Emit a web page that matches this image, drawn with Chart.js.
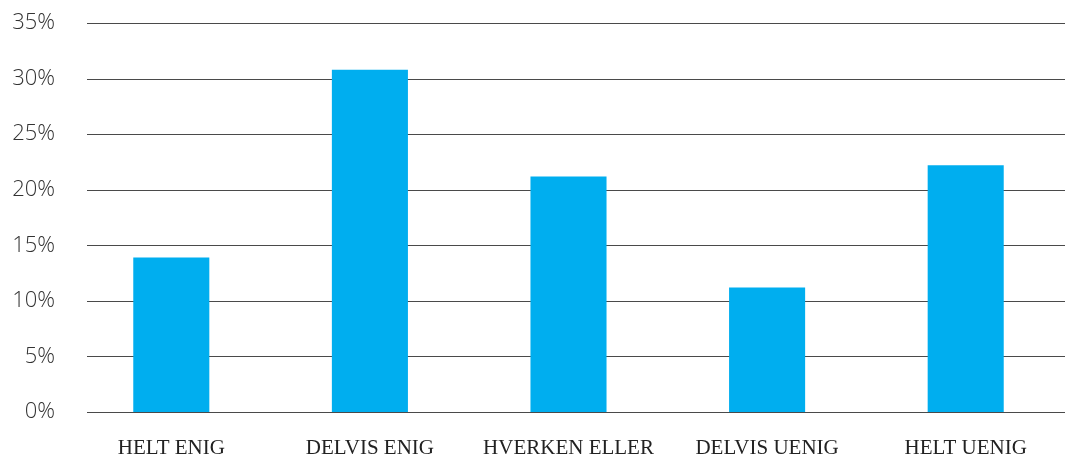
<!DOCTYPE html>
<html lang="no">
<head>
    <meta charset="UTF-8">
    <title>Svarfordeling</title>
    <script src="https://cdn.jsdelivr.net/npm/chart.js"></script>
    <style>
        html, body { margin: 0; padding: 0; background: #fff; }
        .wrap { width: 1065px; height: 458px; }
    </style>
</head>
<body>
    <div class="wrap"><canvas id="answersChart"></canvas></div>
    <script>
        const categories = ['HELT ENIG', 'DELVIS ENIG', 'HVERKEN ELLER', 'DELVIS UENIG', 'HELT UENIG'];
        const shares = [13.9, 30.8, 21.2, 11.2, 22.2];
        const yTicks = [0, 5, 10, 15, 20, 25, 30, 35];

        // gridlines start a bit right of the axis edge, like the original
        const gridPlugin = {
            id: 'gridLines',
            beforeDatasetsDraw(chart) {
                const { ctx, chartArea, scales } = chart;
                ctx.save();
                ctx.strokeStyle = '#4a4a4a';
                ctx.lineWidth = 1.2;
                yTicks.forEach(v => {
                    const y = Math.round(scales.y.getPixelForValue(v)) + 0.5;
                    ctx.beginPath();
                    ctx.moveTo(chartArea.left + 15, y);
                    ctx.lineTo(chartArea.right, y);
                    ctx.stroke();
                });
                ctx.restore();
            }
        };

        new Chart(document.getElementById('answersChart'), {
            type: 'bar',
            data: {
                labels: categories,
                datasets: [{
                    data: shares,
                    backgroundColor: '#00AEEF',
                    borderWidth: 0,
                    categoryPercentage: 1,
                    barPercentage: 0.383
                }]
            },
            options: {
                responsive: true,
                maintainAspectRatio: false,
                animation: false,
                layout: { padding: { top: 23, right: 0, bottom: 0, left: 1 } },
                plugins: {
                    legend: { display: false },
                    tooltip: { enabled: false }
                },
                scales: {
                    x: {
                        afterFit(scale) { scale.height = 46; scale.paddingLeft = 0; scale.paddingRight = 0; },
                        grid: { display: false, drawTicks: false },
                        border: { display: false },
                        ticks: {
                            color: '#222',
                            padding: 24,
                            maxRotation: 0,
                            font: { family: '"Liberation Serif", serif', size: 21 }
                        }
                    },
                    y: {
                        min: 0,
                        max: 35,
                        afterFit(scale) { scale.width = 71; scale.paddingTop = 0; scale.paddingBottom = 0; },
                        afterBuildTicks(scale) { scale.ticks = yTicks.map(v => ({ value: v })); },
                        grid: { display: false, drawTicks: false },
                        border: { display: false },
                        ticks: {
                            color: '#333',
                            padding: 17,
                            font: { family: '"Open Sans", sans-serif', size: 22, weight: 300 },
                            callback: v => v + '%'
                        }
                    }
                }
            },
            plugins: [gridPlugin]
        });
    </script>
</body>
</html>
